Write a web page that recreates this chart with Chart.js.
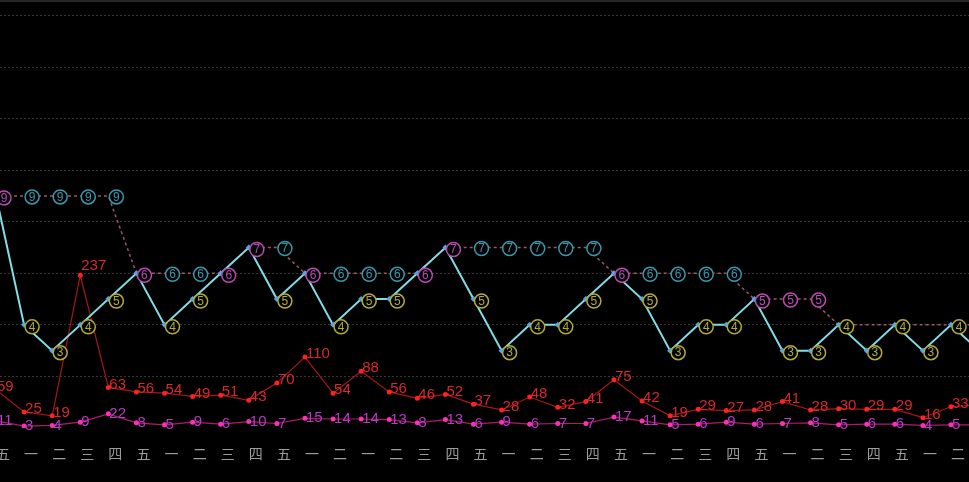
<!DOCTYPE html>
<html>
<head>
<meta charset="utf-8">
<script src="https://cdn.jsdelivr.net/npm/chart.js@4.4.0/dist/chart.umd.min.js"></script>
<style>
  html, body { margin: 0; padding: 0; background: #000; overflow: hidden; }
</style>
</head>
<body>
<canvas id="chart" width="969" height="482"></canvas>
<script>
// ── Datos ───────────────────────────────────────────────────────────
const days  = ['五','一','二','三','四','五','一','二','三','四','五','一','二','一','二','三','四','五',
               '一','二','三','四','五','一','二','三','四','五','一','二','三','四','五','一','二','三'];
const wave  = [9,4,3,4,5,6,4,5,6,7,5,6,4,5,5,6,7,5,3,4,4,5,6,5,3,4,4,5,3,3,4,3,4,3,4,3];
const level = [9,9,9,9,9,6,6,6,6,7,7,6,6,6,6,6,7,7,7,7,7,7,6,6,6,6,6,5,5,5,4,4,4,4,4,4];
const red   = [59,25,19,237,63,56,54,49,51,43,70,110,54,88,56,46,52,37,28,48,32,41,75,42,19,29,27,28,41,28,30,29,29,16,33,36];
const pink  = [11,3,4,9,22,8,5,9,6,10,7,15,14,14,13,8,13,6,9,6,7,7,17,11,5,6,9,6,7,8,5,6,6,4,5,5];
const yTicks = [2,4,6,8,10,12,14,16];

const pts = arr => arr.map((v, i) => ({ x: i, y: v }));

const C_YEL  = '#b3ab36';
const C_TEAL = '#3a98ad';
const C_MAG  = '#b94cb2';
const NUM_FONT = '"Liberation Sans", Arial, sans-serif';

// círculo con número (etiquetas de la onda y del nivel)
function ring(ctx, x, y, txt, color) {
    ctx.beginPath();
    ctx.arc(x, y, 7, 0, Math.PI * 2);
    ctx.fillStyle = '#000';
    ctx.fill();
    ctx.lineWidth = 1.5;
    ctx.strokeStyle = color;
    ctx.stroke();
    ctx.fillStyle = color;
    ctx.font = '12px ' + NUM_FONT;
    ctx.textAlign = 'center';
    ctx.textBaseline = 'middle';
    ctx.fillText(txt, x, y + 0.5);
}

const marks = {
    id: 'marks',
    beforeDraw(chart) {
        const { ctx, width } = chart;
        ctx.save();
        ctx.fillStyle = '#262626';
        ctx.fillRect(0, 0, width, 2);
        ctx.restore();
    },
    afterDatasetsDraw(chart) {
        const ctx = chart.ctx;
        const xs = chart.scales.x, ys = chart.scales.y, y2 = chart.scales.y2;
        ctx.save();

        // números rojos y magenta
        ctx.font = '15px ' + NUM_FONT;
        ctx.textAlign = 'left';
        ctx.textBaseline = 'middle';
        red.forEach((v, i) => {
            ctx.fillStyle = '#d62a2a';
            const lift = v > 200 ? 9 : 3;
            ctx.fillText(v, xs.getPixelForValue(i) + 1, y2.getPixelForValue(v) - lift);
        });
        pink.forEach((v, i) => {
            ctx.fillStyle = '#b83ac6';
            ctx.fillText(v, xs.getPixelForValue(i) + 1, y2.getPixelForValue(v));
        });

        // nivel (línea punteada)
        level.forEach((v, i) => {
            if (v === wave[i] || v === 4) return;
            ring(ctx, xs.getPixelForValue(i) + 8, ys.getPixelForValue(v) + 1, v, v === 5 ? C_MAG : C_TEAL);
        });
        // onda
        wave.forEach((v, i) => {
            const peak = v === level[i] && v > 4;
            ring(ctx, xs.getPixelForValue(i) + 8, ys.getPixelForValue(v) + 2, v, peak ? C_MAG : C_YEL);
        });
        ctx.restore();
    }
};

new Chart(document.getElementById('chart'), {
    type: 'line',
    data: {
        datasets: [
            {
                data: pts(wave), yAxisID: 'y', order: 0,
                borderColor: '#80dde6', borderWidth: 2,
                pointStyle: 'rectRot', pointRadius: 3,
                pointBackgroundColor: '#55a6e6', pointBorderWidth: 0
            },
            {
                data: pts(level), yAxisID: 'y', order: 1,
                borderColor: '#9c5862', borderWidth: 1.5, borderDash: [3, 3],
                pointRadius: 0
            },
            {
                data: pts(red), yAxisID: 'y2', order: 2,
                borderColor: '#a81616', borderWidth: 1.2,
                pointRadius: 2.5, pointBackgroundColor: '#ff2222', pointBorderWidth: 0
            },
            {
                data: pts(pink), yAxisID: 'y2', order: 3,
                borderColor: '#b01a6c', borderWidth: 1.2,
                pointRadius: 2.5, pointBackgroundColor: '#ff30b8', pointBorderWidth: 0
            }
        ]
    },
    options: {
        responsive: false,
        animation: false,
        layout: { padding: 0, autoPadding: false },
        plugins: { legend: { display: false }, tooltip: { enabled: false } },
        scales: {
            x: {
                type: 'linear', min: 0.142, max: 34.64,
                grid: { display: false, drawTicks: false },
                border: { display: false },
                afterBuildTicks: s => { s.ticks = days.slice(0, 35).map((d, i) => ({ value: i })); },
                afterFit: s => { s.height = 54; s.paddingLeft = 0; s.paddingRight = 0; },
                ticks: {
                    autoSkip: false, maxRotation: 0, minRotation: 0,
                    color: '#9c9c9c', padding: 17, labelOffset: 7,
                    font: { family: '"Noto Sans CJK SC"', size: 14 },
                    callback: v => days[v] ?? ''
                }
            },
            y: {
                min: 0, max: 16.6,
                afterBuildTicks: s => { s.ticks = yTicks.map(v => ({ value: v })); },
                afterFit: s => { s.width = 0; },
                ticks: { display: false },
                grid: { color: '#363636', lineWidth: 1, drawTicks: false },
                border: { display: false, dash: [2, 2] }
            },
            y2: { display: false, min: 0, max: 664 }
        }
    },
    plugins: [marks]
});
</script>
</body>
</html>
